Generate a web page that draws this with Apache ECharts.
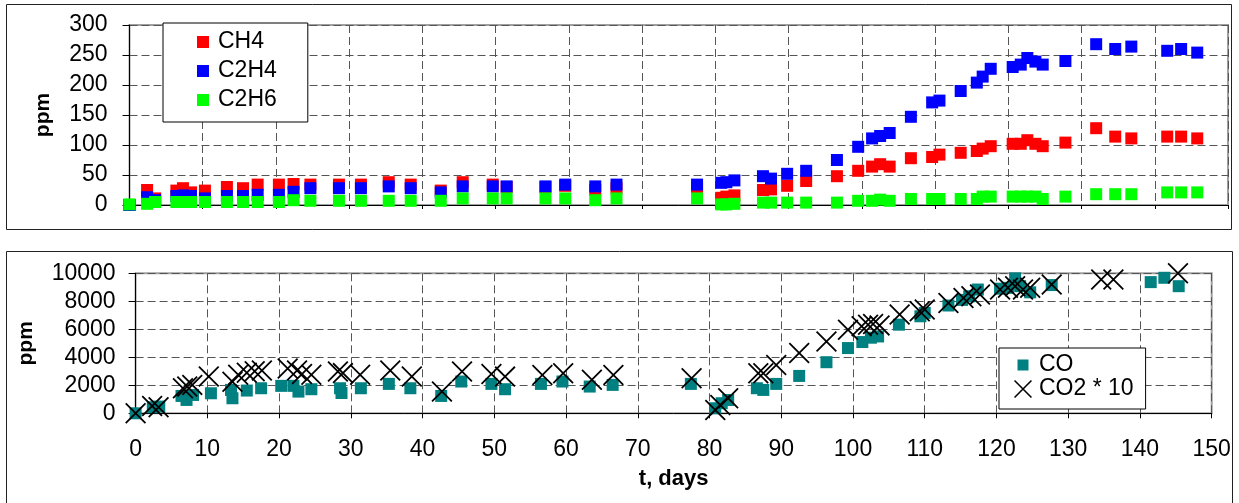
<!DOCTYPE html>
<html>
<head>
<meta charset="utf-8">
<script src="https://cdn.jsdelivr.net/npm/echarts@6/dist/echarts.min.js"></script>
<style>
html,body{margin:0;padding:0;background:#fff;}
#chart{width:1239px;height:503px;}
</style>
</head>
<body>
<div id="chart"></div>
<script>
// ---- Data ----
const gasDays = [0, 2.4, 3.5, 6.4, 7.3, 8.4, 10.3, 13.3, 15.5, 17.5, 20.4, 22.4, 24.7, 28.6, 31.6, 35.4, 38.4, 42.5, 45.5, 49.6, 51.5, 56.8, 59.5, 63.6, 66.5, 77.5, 80.8, 81.5, 82.6, 86.5, 87.6, 89.8, 92.4, 96.6, 99.5, 101.4, 102.5, 103.8, 106.7, 109.6, 110.6, 113.5, 115.7, 116.5, 117.6, 120.6, 121.7, 122.6, 123.7, 124.7, 127.8, 132.0, 134.6, 136.8, 141.7, 143.6, 145.8];
const ch4 = [0, 25, 11, 24, 28, 21, 24, 30, 28, 34, 34, 35, 34, 34, 34, 38, 34, 24, 38, 34, 30, 30, 32, 25, 28, 28, 12, 14, 16, 25, 26, 32, 40, 48, 57, 64, 68, 64, 78, 80, 84, 87, 90, 94, 98, 102, 102, 108, 102, 98, 104, 128, 114, 111, 114, 114, 111];
const c2h4 = [0, 13, 8, 15, 16, 15, 11, 15, 15, 17, 17, 22, 28, 28, 28, 31, 28, 21, 31, 31, 31, 31, 34, 31, 34, 34, 37, 38, 41, 48, 44, 52, 57, 75, 97, 111, 115, 120, 147, 171, 174, 190, 204, 214, 227, 230, 234, 245, 239, 234, 240, 268, 260, 264, 257, 260, 254];
const c2h6 = [1, 2, 5, 5, 5, 5, 5, 5, 5, 5, 5, 8, 7, 7, 7, 7, 7, 7, 11, 11, 11, 11, 11, 8, 11, 11, 1, 1, 2, 4, 4, 4, 4, 4, 7, 7, 9, 7, 10, 10, 10, 10, 10, 14, 14, 14, 14, 14, 14, 10, 14, 18, 18, 18, 21, 21, 21];

const coDays = [0, 2.4, 3.3, 6.4, 7.1, 8.0, 10.5, 13.3, 13.5, 15.5, 17.5, 20.3, 22.0, 22.7, 24.5, 28.5, 28.7, 31.4, 35.3, 38.3, 42.6, 45.4, 49.6, 51.5, 56.5, 59.5, 63.3, 66.5, 77.4, 80.8, 81.7, 82.6, 86.6, 87.5, 89.3, 92.5, 96.3, 99.3, 101.3, 102.5, 103.5, 106.4, 109.4, 110.0, 113.3, 115.2, 116.2, 117.4, 120.5, 121.6, 122.6, 123.3, 124.7, 127.7, 141.5, 143.4, 145.4];
const co = [0, 430, 480, 1240, 955, 1310, 1430, 1670, 1075, 1625, 1790, 1960, 1960, 1550, 1720, 1790, 1450, 1790, 2100, 1790, 1240, 2270, 2100, 1720, 2100, 2270, 1910, 2030, 2100, 360, 720, 950, 1790, 1670, 2100, 2670, 3650, 4660, 5090, 5400, 5490, 6330, 6930, 7170, 7700, 8100, 8360, 8840, 8900, 8960, 9640, 9080, 8640, 9160, 9370, 9680, 9080];

const co2Days = [0, 2.3, 3.2, 6.6, 7.2, 7.9, 10.2, 13.5, 14.3, 15.5, 16.6, 17.6, 21.2, 22.5, 23.2, 24.5, 28.2, 28.9, 31.3, 35.5, 38.5, 42.7, 45.5, 49.6, 51.5, 56.7, 59.6, 63.6, 66.6, 77.5, 80.8, 81.5, 82.6, 86.8, 87.5, 89.3, 92.5, 96.3, 99.3, 101.2, 102.1, 102.8, 103.7, 106.5, 109.3, 110.0, 113.3, 115.4, 116.5, 117.7, 120.5, 121.6, 122.6, 123.7, 124.7, 127.7, 134.6, 136.3, 145.3];
const co2x10 = [0, 525, 430, 1790, 1910, 2030, 2630, 2250, 2750, 2900, 3000, 3050, 3200, 3050, 2800, 2750, 2990, 2870, 2750, 3050, 2630, 1550, 2990, 2800, 2620, 2740, 2860, 2390, 2740, 2500, 240, 600, 1070, 2860, 2860, 3450, 4300, 5130, 5970, 6210, 6330, 6380, 6280, 7050, 7290, 7410, 7880, 8240, 8360, 8480, 8840, 8960, 9080, 8840, 8960, 9200, 9560, 9560, 10000];

const xTicks = {min: 0, max: 150, interval: 10};
const topY = {min: 0, max: 300, interval: 50};
const botY = {min: 0, max: 10000, interval: 2000};
const seriesNames = ['CH4', 'C2H4', 'C2H6', 'CO', 'CO2 * 10'];

// ---- Chart ----
const FONT = "'Liberation Sans', Arial, Helvetica, sans-serif";
const zip = (xs, ys) => xs.map((x, i) => [x, ys[i]]);
const XPATH = 'path://M0,6L6,0L100,94L94,100Z M94,0L100,6L6,100L0,94Z';
const SQ = 'path://M0,0H10V10H0Z';
const COICON = 'path://M0,0L0.01,0L0,0.01Z M18,18L17.99,18L18,17.99Z M3.5,3.5H14.5V14.5H3.5Z';

const grid = (left, top, width, height) => ({
  left, top, width, height, show: true,
  borderColor: '#a0a0a0', borderWidth: 2, backgroundColor: 'transparent'
});
const dash = {show: true, lineStyle: {color: '#555', width: 1, type: [8, 4]}};
const axisLine = {show: true, onZero: false, lineStyle: {color: '#000', width: 1}};
const fmt = v => String(v);

const chart = echarts.init(document.getElementById('chart'), null, {renderer: 'canvas'});
chart.setOption({
  animation: false,
  backgroundColor: '#fff',
  textStyle: {fontFamily: FONT},
  grid: [grid(129.5, 25, 1098.5, 180), grid(135.6, 273.3, 1076.1, 140)],
  xAxis: [
    Object.assign({gridIndex: 0, type: 'value', axisLine,
      axisTick: {show: true, length: 4, lineStyle: {color: '#000'}},
      axisLabel: {show: false}, splitLine: dash}, xTicks),
    Object.assign({gridIndex: 1, type: 'value', axisLine,
      axisTick: {show: true, length: 5, lineStyle: {color: '#000'}},
      axisLabel: {fontSize: 23, color: '#000', margin: 25, fontFamily: FONT, formatter: fmt},
      splitLine: dash,
      name: 't, days', nameLocation: 'middle', nameGap: 55,
      nameTextStyle: {fontSize: 22, fontWeight: 'bold', color: '#000', fontFamily: FONT}}, xTicks)
  ],
  yAxis: [
    Object.assign({gridIndex: 0, type: 'value', axisLine,
      axisTick: {show: true, length: 7, lineStyle: {color: '#000'}},
      axisLabel: {fontSize: 23, color: '#000', margin: 22, fontFamily: FONT, formatter: fmt},
      splitLine: dash,
      name: 'ppm', nameLocation: 'middle', nameGap: 76, nameRotate: 90,
      nameTextStyle: {fontSize: 21, fontWeight: 'bold', color: '#000', fontFamily: FONT}}, topY),
    Object.assign({gridIndex: 1, type: 'value', axisLine,
      axisTick: {show: true, length: 7, lineStyle: {color: '#000'}},
      axisLabel: {fontSize: 23, color: '#000', margin: 20, fontFamily: FONT, formatter: fmt},
      splitLine: dash,
      name: 'ppm', nameLocation: 'middle', nameGap: 99, nameRotate: 90,
      nameTextStyle: {fontSize: 21, fontWeight: 'bold', color: '#000', fontFamily: FONT}}, botY)
  ],
  legend: [
    {orient: 'vertical', left: 163, top: 23, selectedMode: false,
     data: seriesNames.slice(0, 3), icon: SQ, itemWidth: 20, itemHeight: 12, itemGap: 6,
     padding: [7.5, 31, 10.5, 34], borderColor: '#000', borderWidth: 1, backgroundColor: '#fff',
     textStyle: {fontSize: 23, color: '#000', fontFamily: FONT}},
    {orient: 'vertical', left: 999, top: 348, selectedMode: false,
     data: [{name: seriesNames[3], icon: COICON}, {name: seriesNames[4], icon: XPATH}],
     itemWidth: 22, itemHeight: 18, itemGap: 1,
     padding: [5.5, 12, 8.5, 15], borderColor: '#000', borderWidth: 1, backgroundColor: '#fff',
     textStyle: {fontSize: 23, color: '#000', fontFamily: FONT}}
  ],
  graphic: [
    {type: 'rect', z: -10, silent: true, shape: {x: 6.5, y: 4.5, width: 1225, height: 225},
     style: {fill: 'none', stroke: '#222', lineWidth: 1}},
    {type: 'rect', z: -10, silent: true, shape: {x: 6.5, y: 251.5, width: 1226, height: 270},
     style: {fill: 'none', stroke: '#222', lineWidth: 1}}
  ],
  series: [
    {name: seriesNames[0], type: 'scatter', xAxisIndex: 0, yAxisIndex: 0, symbol: 'rect', symbolSize: 12,
     itemStyle: {color: '#ff0000', opacity: 1}, data: zip(gasDays, ch4)},
    {name: seriesNames[1], type: 'scatter', xAxisIndex: 0, yAxisIndex: 0, symbol: 'rect', symbolSize: 12,
     itemStyle: {color: '#0000ff', opacity: 1}, data: zip(gasDays, c2h4)},
    {name: seriesNames[2], type: 'scatter', xAxisIndex: 0, yAxisIndex: 0, symbol: 'rect', symbolSize: 12,
     itemStyle: {color: '#00ff00', opacity: 1}, data: zip(gasDays, c2h6)},
    {name: seriesNames[3], type: 'scatter', xAxisIndex: 1, yAxisIndex: 1, symbol: 'rect', symbolSize: 12,
     itemStyle: {color: '#008080', opacity: 1}, data: zip(coDays, co)},
    {name: seriesNames[4], type: 'scatter', xAxisIndex: 1, yAxisIndex: 1, symbol: XPATH, symbolSize: 21,
     clip: false, itemStyle: {color: '#000', opacity: 1}, data: zip(co2Days, co2x10)}
  ]
});
</script>
</body>
</html>
